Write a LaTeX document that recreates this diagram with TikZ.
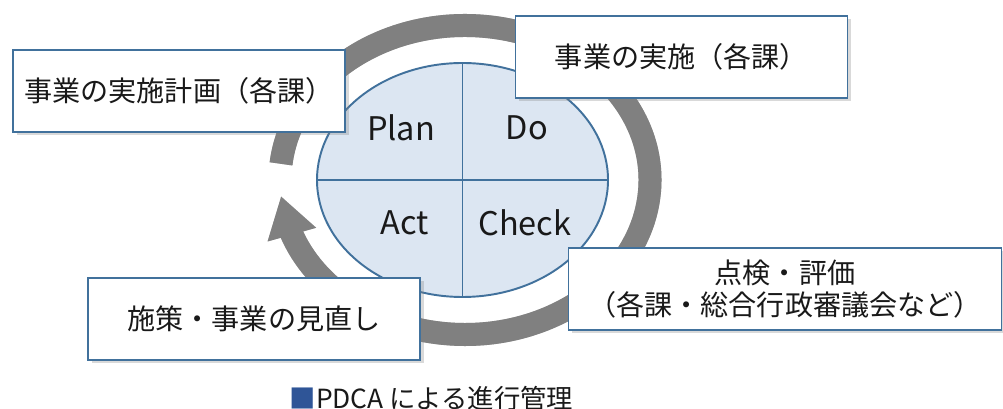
\documentclass[tikz,border=0pt]{standalone}
\usepackage{fontspec}
\setmainfont{Noto Sans CJK JP}
\usepackage{xcolor}
\usetikzlibrary{arrows.meta, bending, shadows}
\definecolor{garis}{HTML}{41719C}
\definecolor{isi}{HTML}{DCE6F2}
\definecolor{abu}{HTML}{808080}
\definecolor{tanda}{HTML}{2F5597}
\tikzset{
  tahap/.style={rectangle, draw=garis, line width=1.1pt, fill=white,
    minimum width=6.64cm, minimum height=1.64cm, align=center,
    text=black!90, font=\fontsize{16}{18}\selectfont,
    drop shadow={shadow xshift=0.07cm, shadow yshift=-0.07cm, opacity=0.3}},
  fase/.style={font=\fontsize{18.5}{22}\selectfont, text=black!90},
  putaran/.style={line width=0.46cm, draw=abu,
    -{Triangle[length=0.8cm, width=0.95cm]}}
}

\begin{document}
\begin{tikzpicture}
  \useasboundingbox (0,0) rectangle (20.06,-8.18);
  \coordinate (pusat) at (9.3,-3.6);
  \coordinate (tengah) at (9.25,-3.6);

  % cycle arrow round the four phases
  \draw[putaran, draw=black!25, shift={(0.05,-0.05)}] (pusat) ++(174:3.7cm and 3.09cm)
    arc[start angle=174, end angle=-174, x radius=3.7cm, y radius=3.09cm];
  \draw[putaran] (pusat) ++(174:3.7cm and 3.09cm)
    arc[start angle=174, end angle=-174, x radius=3.7cm, y radius=3.09cm];

  % PDCA ellipse
  \draw[garis, fill=isi, line width=1.1pt] (tengah) ellipse [x radius=2.91cm, y radius=2.34cm];
  \draw[garis, line width=1.1pt] (tengah) ++(0,2.34) -- ++(0,-4.68);
  \draw[garis, line width=1.1pt] (tengah) ++(-2.91,0) -- ++(5.82,0);
  \node[fase] (plan) at (8.02,-2.56) {Plan};
  \node[fase] (do) at (10.54,-2.56) {Do};
  \node[fase] (act) at (8.1,-4.46) {Act};
  \node[fase] (check) at (10.5,-4.46) {Check};

  \node[tahap] (rencana) at (3.58,-1.82) {事業の実施計画（各課）};
  \node[tahap] (jalan) at (13.63,-1.14) {事業の実施（各課）};
  \node[tahap, minimum width=8.66cm] (nilai) at (15.7,-5.78)
    {点検・評価\\（各課・総合行政審議会など）};
  \node[tahap] (tinjau) at (5.08,-6.38) {施策・事業の見直し};

  \node[font=\fontsize{15}{17}\selectfont, text=black!90] (judul) at (8.63,-7.96)
    {\textcolor{tanda}{■}PDCA による進行管理};
\end{tikzpicture}
\end{document}
